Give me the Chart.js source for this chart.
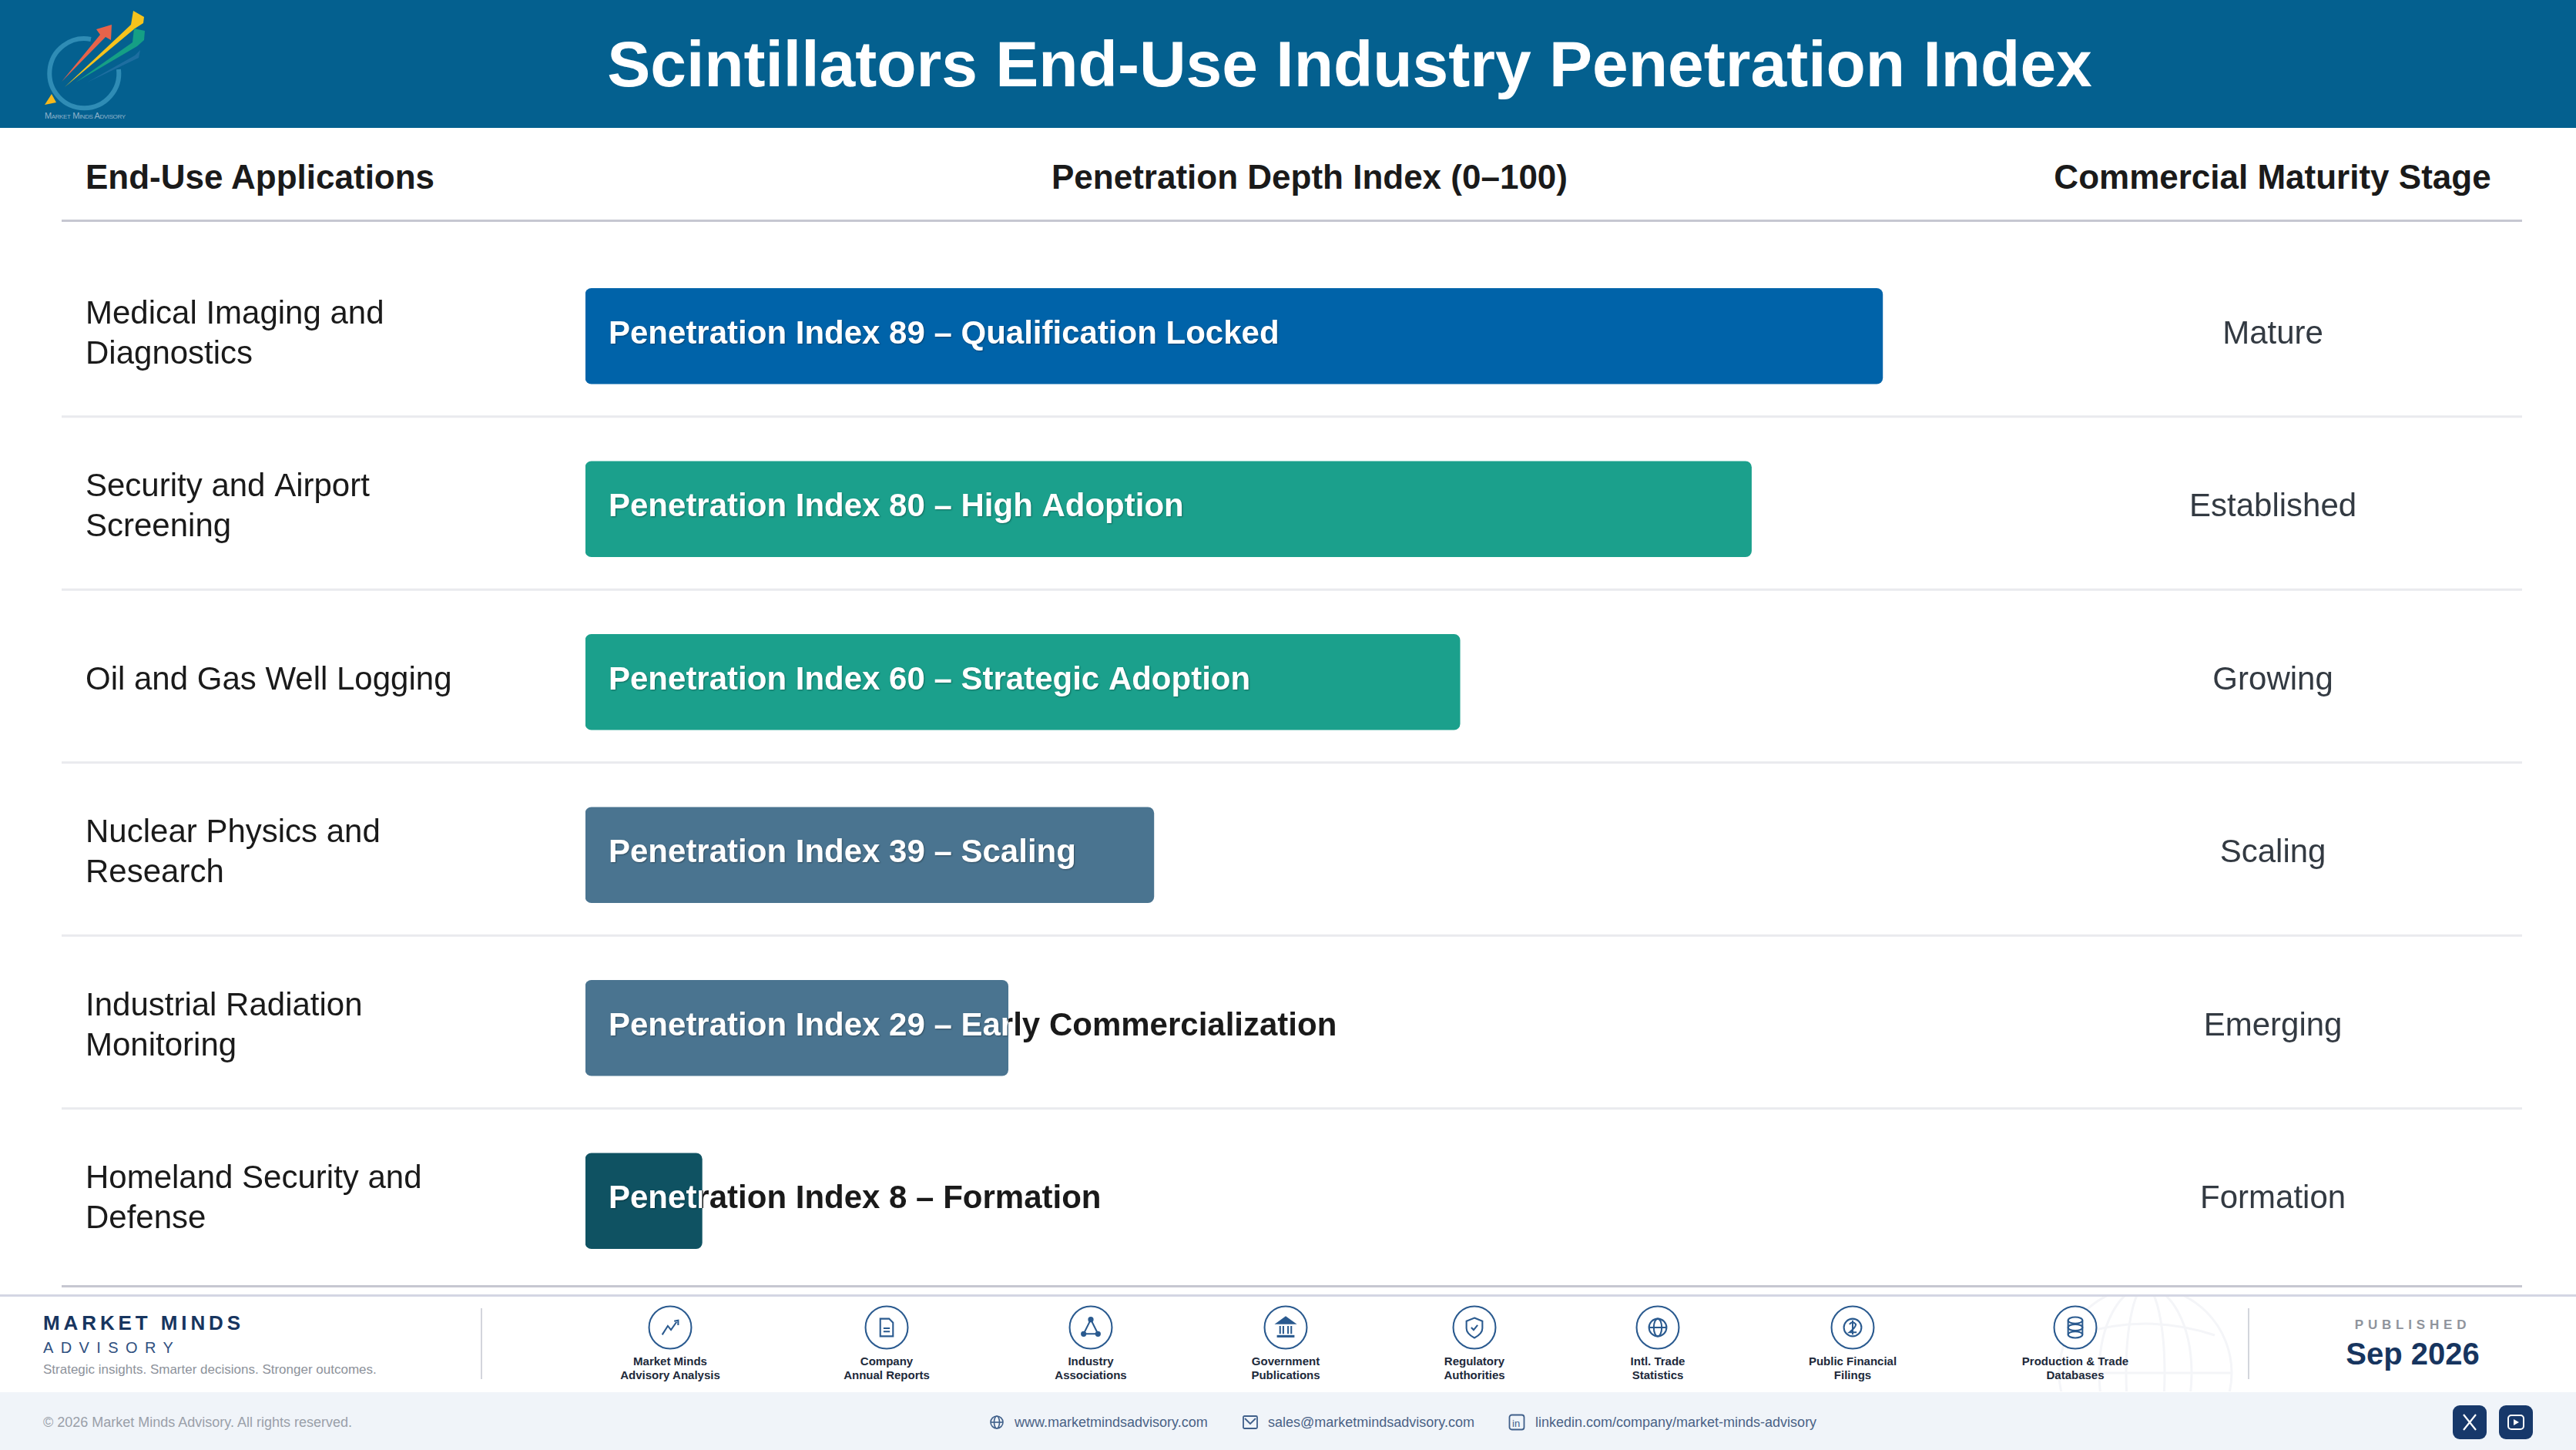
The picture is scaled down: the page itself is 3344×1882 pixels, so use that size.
<!DOCTYPE html>
<html lang="en">
<head>
<meta charset="utf-8">
<title>Scintillators End-Use Industry Penetration Index</title>
<script src="https://cdn.jsdelivr.net/npm/chart.js@4/dist/chart.umd.min.js"></script>
<style>
    html, body { margin: 0; padding: 0; background: #fff; }
    body { width: 3344px; height: 1882px; position: relative; overflow: hidden; font-family: "Liberation Sans", Arial, sans-serif; color: #1a1a1a; }
    .abs { position: absolute; white-space: nowrap; }
    .header { left: 0; top: 0; width: 3344px; height: 166px; background: #04608f; }
    .title { left: 0; width: 3504px; top: 83px; transform: translateY(-50%); text-align: center; color: #fff; font-size: 84px; font-weight: 700; }
    .colhead { top: 230px; transform: translateY(-50%); font-size: 44px; font-weight: 700; color: #1a1a1a; }
    .rule { left: 80px; width: 3194px; height: 3px; background: #c6c7d1; }
    .chartbox { left: 0; top: 324px; width: 3344px; height: 1347px; }
    .band { left: 0; width: 3344px; height: 3px; background: #d4d6e3; }
    .foot { left: 0; top: 1807px; width: 3344px; height: 75px; background: #f0f4f9; }
    .vline { top: 1698px; width: 2px; height: 92px; background: #d3d5dc; }
    .source { width: 260px; text-align: center; }
    .source svg { position: absolute; left: 101px; top: 0; }
    .source div { position: absolute; left: 0; width: 260px; top: 64px; font-size: 15px; font-weight: 700; line-height: 18px; color: #20293a; }
    .link { top: 1846px; transform: translateY(-50%); font-size: 18px; color: #4a6286; }
    .social { top: 1824px; width: 44px; height: 44px; border-radius: 9px; background: #17386a; }
</style>
</head>
<body>
    <div class="abs header"></div>
    <svg class="abs" style="left:0;top:0" width="240" height="166" viewBox="0 0 240 166">
        <path d="M118 51 A45 45 0 1 0 154 90" fill="none" stroke="#2f8cb5" stroke-width="6"/>
        <path d="M80 106 L130 45 L125 38 L145 32 L144 52 L137 48 Z" fill="#e8634a"/>
        <path d="M84 113 L170 32 L173 14 L187 22 L186 30 L175 37 Z" fill="#f6c31c"/>
        <path d="M98 107 L172 55 L174 37 L188 40 L187 52 L178 60 Z" fill="#159f85"/>
        <path d="M113 107 L175 72 L182 65 L180 75 Z" fill="#1d6ea0"/>
        <path d="M58 136 L67 122 L73 133 Z" fill="#f6b81c"/>
        <text x="58" y="154" font-size="11" fill="#8fb3cb" textLength="105" font-family="Liberation Sans" style="font-variant:small-caps">Market Minds Advisory</text>
    </svg>
    <div class="abs title">Scintillators End-Use Industry Penetration Index</div>

    <div class="abs colhead" style="left:111px">End-Use Applications</div>
    <div class="abs colhead" style="left:1700px;transform:translate(-50%,-50%)">Penetration Depth Index (0–100)</div>
    <div class="abs colhead" style="left:2950px;transform:translate(-50%,-50%)">Commercial Maturity Stage</div>
    <div class="abs rule" style="top:285px"></div>

    <div class="abs chartbox"><canvas id="penetrationChart"></canvas></div>
    <div class="abs rule" style="top:1668px"></div>

    <div class="abs band" style="top:1680px"></div>
    <svg class="abs" style="left:2620px;top:1683px" width="330" height="123" viewBox="0 0 330 123" fill="none" stroke="#f4f5f8" stroke-width="3">
        <circle cx="165" cy="99" r="112"/>
        <ellipse cx="165" cy="99" rx="60" ry="112"/>
        <ellipse cx="165" cy="99" rx="25" ry="112"/>
        <path d="M53 99 H277 M75 50 Q165 20 255 50"/>
    </svg>
    <div class="abs" style="left:56px;top:1717px;transform:translateY(-50%);font-size:26px;font-weight:700;letter-spacing:4.9px;color:#17355f">MARKET MINDS</div>
    <div class="abs" style="left:56px;top:1749px;transform:translateY(-50%);font-size:20px;letter-spacing:9.4px;color:#2f5080">ADVISORY</div>
    <div class="abs" style="left:56px;top:1778px;transform:translateY(-50%);font-size:17px;color:#8d929b">Strategic insights. Smarter decisions. Stronger outcomes.</div>
    <div class="abs vline" style="left:624px"></div>
    <div class="abs vline" style="left:2918px"></div>

    <div id="sources"></div>

    <div class="abs" style="left:3132px;top:1720px;transform:translate(-50%,-50%);font-size:17px;font-weight:700;letter-spacing:5.8px;color:#8f949c">PUBLISHED</div>
    <div class="abs" style="left:3132px;top:1757px;transform:translate(-50%,-50%);font-size:40px;font-weight:700;color:#17355f">Sep 2026</div>

    <div class="abs foot"></div>
    <div class="abs" style="left:56px;top:1846px;transform:translateY(-50%);font-size:18px;color:#9aa0a9">© 2026 Market Minds Advisory. All rights reserved.</div>
    <svg class="abs" style="left:1284px;top:1836px" width="20" height="20" viewBox="0 0 20 20" fill="none" stroke="#3f5f8a" stroke-width="1.6">
        <circle cx="10" cy="10" r="8"/><ellipse cx="10" cy="10" rx="3.5" ry="8"/><path d="M2 10 H18"/>
    </svg>
    <div class="abs link" style="left:1317px">www.marketmindsadvisory.com</div>
    <svg class="abs" style="left:1613px;top:1837px" width="20" height="18" viewBox="0 0 20 18" fill="none" stroke="#3f5f8a" stroke-width="1.8">
        <rect x="1" y="1" width="18" height="16" rx="1.5"/><path d="M3 4 L10 11 L17 4"/>
    </svg>
    <div class="abs link" style="left:1646px">sales@marketmindsadvisory.com</div>
    <svg class="abs" style="left:1958px;top:1835px" width="22" height="22" viewBox="0 0 22 22" fill="none" stroke="#3f5f8a" stroke-width="1.8">
        <rect x="1.5" y="1.5" width="19" height="19" rx="3"/>
        <text x="5" y="16.5" font-size="13" stroke="none" fill="#3f5f8a" font-family="Liberation Sans">in</text>
    </svg>
    <div class="abs link" style="left:1993px">linkedin.com/company/market-minds-advisory</div>
    <div class="abs social" style="left:3184px">
        <svg width="44" height="44" viewBox="0 0 44 44" stroke="#fff" stroke-width="2.2"><path d="M14 12 L30 32 M30 12 L14 32"/></svg>
    </div>
    <div class="abs social" style="left:3244px">
        <svg width="44" height="44" viewBox="0 0 44 44" fill="none" stroke="#fff" stroke-width="2"><rect x="12" y="13" width="20" height="18" rx="4"/><path d="M19 18 L26 22 L19 26 Z" fill="#fff" stroke="none"/></svg>
    </div>

<script>
// chart values
const applications = [
    ['Medical Imaging and', 'Diagnostics'],
    ['Security and Airport', 'Screening'],
    'Oil and Gas Well Logging',
    ['Nuclear Physics and', 'Research'],
    ['Industrial Radiation', 'Monitoring'],
    ['Homeland Security and', 'Defense']
];
const penetrationIndex = [89, 80, 60, 39, 29, 8];
const adoptionLabels = ['Qualification Locked', 'High Adoption', 'Strategic Adoption', 'Scaling', 'Early Commercialization', 'Formation'];
const maturityStages = ['Mature', 'Established', 'Growing', 'Scaling', 'Emerging', 'Formation'];
const barColors = ['#0063a9', '#1ba08c', '#1ba08c', '#4a7490', '#4a7490', '#0f5262'];

const sourceNames = [
    ['Market Minds', 'Advisory Analysis'],
    ['Company', 'Annual Reports'],
    ['Industry', 'Associations'],
    ['Government', 'Publications'],
    ['Regulatory', 'Authorities'],
    ['Intl. Trade', 'Statistics'],
    ['Public Financial', 'Filings'],
    ['Production & Trade', 'Databases']
];
const sourceCenters = [870, 1151, 1416, 1669, 1914, 2152, 2405, 2694];
const sourceGlyphs = [
    '<path d="M18 37 L25 26 L29 31 L36 21" fill="none"/><path d="M33 20 L38 19 L38 25" fill="none"/>',
    '<path d="M20 17 H31 L36 22 V39 H20 Z" fill="none"/><path d="M24 29 H32 M24 33 H32" fill="none"/>',
    '<path d="M28 18 L19 36 H37 Z" fill="none"/><circle cx="28" cy="18" r="2.5" fill="#2a5a8f"/><circle cx="19" cy="36" r="2.5" fill="#2a5a8f"/><circle cx="37" cy="36" r="2.5" fill="#2a5a8f"/>',
    '<path d="M17 23 L28 15 L39 23 Z" fill="#2a5a8f"/><path d="M21 26 V36 M25 26 V36 M31 26 V36 M35 26 V36" fill="none"/><path d="M17 39 H39" fill="none" stroke-width="3"/>',
    '<path d="M28 16 L38 20 V29 Q38 36 28 41 Q18 36 18 29 V20 Z" fill="none"/><path d="M24 28 L27 31 L32 25" fill="none"/>',
    '<circle cx="28" cy="28" r="11" fill="none"/><ellipse cx="28" cy="28" rx="5" ry="11" fill="none"/><path d="M17 28 H39" fill="none"/>',
    '<circle cx="28" cy="28" r="11" fill="none"/><path d="M24 24 Q28 19 32 24 Q32 28 24 34 H33 M28 19 V37" fill="none"/>',
    '<ellipse cx="28" cy="19" rx="9" ry="4" fill="none"/><ellipse cx="28" cy="28" rx="9" ry="4" fill="none"/><ellipse cx="28" cy="37" rx="9" ry="4" fill="none"/><path d="M19 19 V37 M37 19 V37" fill="none"/>'
];

const sources = document.getElementById('sources');
sourceNames.forEach((name, i) => {
    const item = document.createElement('div');
    item.className = 'abs source';
    item.style.left = (sourceCenters[i] - 130) + 'px';
    item.style.top = '1694px';
    item.innerHTML = `
        <svg width="58" height="58" viewBox="0 0 56 56" stroke="#2a5a8f" stroke-width="2">
            <circle cx="28" cy="28" r="26.5" fill="#fff"/>${sourceGlyphs[i]}
        </svg>
        <div>${name[0].replace('&', '&amp;')}<br>${name[1]}</div>`;
    sources.appendChild(item);
});

// row rules sit a little under the bars, not halfway between them
const rowRules = {
    id: 'rowRules',
    beforeDatasetsDraw(chart) {
        const { ctx, scales: { y } } = chart;
        ctx.save();
        ctx.fillStyle = '#e9eaee';
        for (let i = 0; i < applications.length - 1; i++) {
            ctx.fillRect(80, y.getPixelForValue(i) + 103, 3194, 3);
        }
        ctx.restore();
    }
};

// label runs past short bars: dark on the page, white where it crosses the bar
const barLabels = {
    id: 'barLabels',
    afterDatasetsDraw(chart) {
        const { ctx, chartArea } = chart;
        chart.getDatasetMeta(0).data.forEach((bar, i) => {
            const text = `Penetration Index ${penetrationIndex[i]} – ${adoptionLabels[i]}`;
            const x = bar.base + 30;
            const y = bar.y - 2;
            const top = bar.y - bar.height / 2;
            ctx.font = '700 42px "Liberation Sans"';
            ctx.textBaseline = 'middle';

            ctx.save();
            ctx.beginPath();
            ctx.rect(bar.x, top, chartArea.right - bar.x, bar.height);
            ctx.clip();
            ctx.fillStyle = '#1a1a1a';
            ctx.fillText(text, x, y);
            ctx.restore();

            ctx.save();
            ctx.beginPath();
            ctx.rect(bar.base, top, bar.x - bar.base, bar.height);
            ctx.clip();
            ctx.shadowColor = 'rgba(0, 0, 0, 0.35)';
            ctx.shadowOffsetX = 1;
            ctx.shadowOffsetY = 1;
            ctx.shadowBlur = 2;
            ctx.fillStyle = '#ffffff';
            ctx.fillText(text, x, y);
            ctx.restore();
        });
    }
};

new Chart(document.getElementById('penetrationChart'), {
    type: 'bar',
    data: {
        labels: applications,
        datasets: [{
            data: penetrationIndex,
            backgroundColor: barColors,
            barThickness: 124,
            borderRadius: 8,
            borderSkipped: false
        }]
    },
    options: {
        indexAxis: 'y',
        responsive: true,
        maintainAspectRatio: false,
        animation: false,
        layout: {
            autoPadding: false,
            padding: { left: 111, right: 0, top: 0, bottom: 0 }
        },
        plugins: {
            legend: { display: false },
            tooltip: { enabled: false }
        },
        scales: {
            x: {
                display: false,
                min: 0,
                max: 100
            },
            y: {
                grid: { display: false },
                border: { display: false },
                afterFit(scale) {
                    scale.width = 649;
                    scale.paddingTop = 0;
                    scale.paddingBottom = 0;
                },
                ticks: {
                    crossAlign: 'far',
                    autoSkip: false,
                    color: '#1a1a1a',
                    labelOffset: -2,
                    font: { family: '"Liberation Sans"', size: 42, lineHeight: 1.24 }
                }
            },
            stage: {
                type: 'category',
                labels: maturityStages,
                position: 'right',
                offset: true,
                grid: { display: false },
                border: { display: false },
                afterFit(scale) {
                    scale.width = 692;
                    scale.paddingTop = 0;
                    scale.paddingBottom = 0;
                },
                ticks: {
                    crossAlign: 'center',
                    autoSkip: false,
                    padding: 182,
                    color: '#333a42',
                    labelOffset: -2,
                    font: { family: '"Liberation Sans"', size: 42 }
                }
            }
        }
    },
    plugins: [rowRules, barLabels]
});
</script>
</body>
</html>
